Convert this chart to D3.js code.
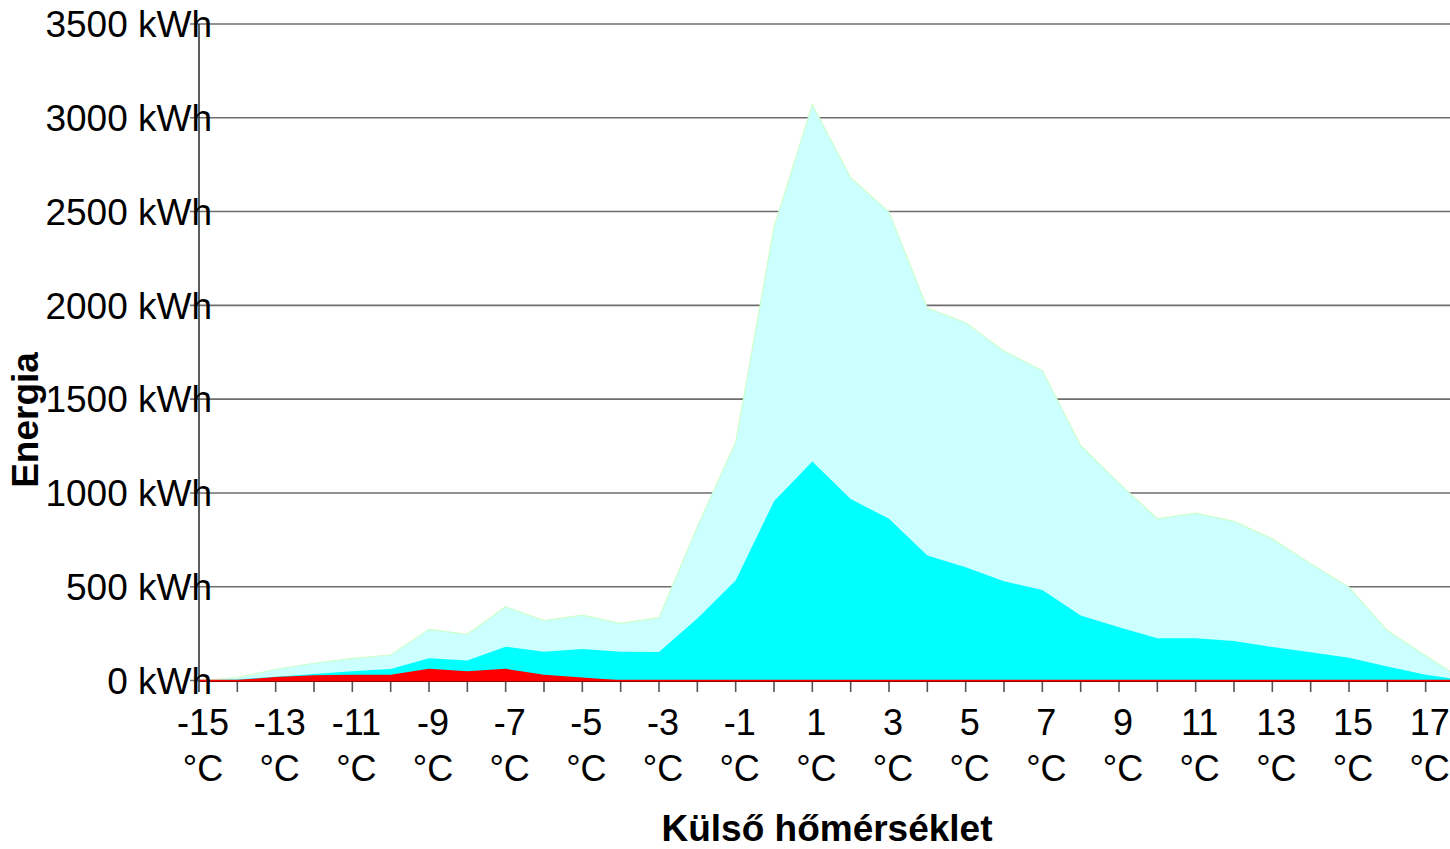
<!DOCTYPE html>
<html>
<head>
<meta charset="utf-8">
<script src="https://cdn.jsdelivr.net/npm/d3@7"></script>
<style>
  html, body { margin: 0; padding: 0; background: #fff; }
  svg { display: block; }
  text { font-family: "Liberation Sans", Arial, sans-serif; fill: #000; }
</style>
</head>
<body>
<svg id="chart" width="1450" height="849"></svg>
<script>
// Outdoor temperature categories (°C)
const temps = [-15, -14, -13, -12, -11, -10, -9, -8, -7, -6, -5, -4, -3, -2, -1, 0,
               1, 2, 3, 4, 5, 6, 7, 8, 9, 10, 11, 12, 13, 14, 15, 16, 17, 18];

// Energy per temperature bin (kWh)
const totalEnergy = [0, 15, 60, 92, 118, 136, 273, 246, 393, 319, 348, 305, 335, 820, 1270, 2416,
                     3070, 2680, 2497, 1985, 1907, 1756, 1652, 1253, 1052, 862, 892, 848, 755, 622, 497, 266, 132, 2];
const midEnergy   = [0, 6, 20, 35, 49, 61, 119, 107, 180, 153, 168, 153, 152, 330, 533, 955,
                     1167, 968, 862, 666, 604, 529, 483, 346, 284, 225, 225, 210, 178, 151, 121, 75, 30, 2];
const lowEnergy   = [0, 3, 18, 28, 30, 30, 62, 49, 62, 30, 16, 2, 0, 0, 0, 0,
                     0, 0, 0, 0, 0, 0, 0, 0, 0, 0, 0, 0, 0, 0, 0, 0, 0, 0];

const yTicks = [0, 500, 1000, 1500, 2000, 2500, 3000, 3500];
const yUnit = "kWh";
const xUnit = "°C";
const xTitle = "Külső hőmérséklet";
const yTitle = "Energia";

const svg = d3.select("#chart");
const W = 1450;

const x = d3.scalePoint().domain(temps).range([199, 1464]);
const y = d3.scaleLinear().domain([0, 3500]).range([680.5, 24]);

// horizontal grid lines (with short outward ticks on the value axis)
svg.append("g").selectAll("line").data(yTicks).join("line")
  .attr("x1", 190).attr("x2", W)
  .attr("y1", d => y(d)).attr("y2", d => y(d))
  .attr("stroke", "#6e6e6e").attr("stroke-width", 1.6);

// areas, back to front
const area = vals => d3.area()
  .x((d, i) => x(temps[i]))
  .y0(y(0))
  .y1(d => y(d))(vals);

svg.append("path").attr("d", area(totalEnergy))
  .attr("fill", "#ccffff").attr("stroke", "#ccffcc").attr("stroke-width", 1.2);
svg.append("path").attr("d", area(midEnergy)).attr("fill", "#00ffff");
svg.append("path").attr("d", area(lowEnergy)).attr("fill", "#ff0000");

// category axis baseline
svg.append("line").attr("x1", 199).attr("x2", W).attr("y1", y(0) + 1).attr("y2", y(0) + 1)
  .attr("stroke", "#800000").attr("stroke-width", 1.2);
svg.append("line").attr("x1", 199).attr("x2", W).attr("y1", y(0)).attr("y2", y(0))
  .attr("stroke", "#ff0000").attr("stroke-width", 1.6);

// category ticks
svg.append("g").selectAll("line").data(temps.slice(1)).join("line")
  .attr("x1", d => x(d)).attr("x2", d => x(d))
  .attr("y1", 682).attr("y2", 692)
  .attr("stroke", "#555").attr("stroke-width", 1.6);

// value axis line
svg.append("line").attr("x1", 199).attr("x2", 199).attr("y1", 24).attr("y2", 692)
  .attr("stroke", "#333").attr("stroke-width", 1.6);

// value labels
svg.append("g").selectAll("text").data(yTicks).join("text")
  .attr("x", 212).attr("y", d => y(d)).attr("dy", "0.36em")
  .attr("text-anchor", "end").attr("font-size", 37)
  .text(d => `${d} ${yUnit}`);

// category labels, every second one, on two lines
const lab = svg.append("g").selectAll("text")
  .data(temps.filter((d, i) => i % 2 === 0)).join("text")
  .attr("text-anchor", "middle").attr("font-size", 36);
lab.append("tspan").attr("x", d => x(d) + 4).attr("y", 735).text(d => d);
lab.append("tspan").attr("x", d => x(d) + 4).attr("y", 781).text(xUnit);

// axis titles
svg.append("text").attr("x", 827).attr("y", 841)
  .attr("text-anchor", "middle").attr("font-size", 37).attr("font-weight", "bold")
  .text(xTitle);
svg.append("text").attr("transform", "translate(38,420) rotate(-90)")
  .attr("text-anchor", "middle").attr("font-size", 37).attr("font-weight", "bold")
  .text(yTitle);
</script>
</body>
</html>
